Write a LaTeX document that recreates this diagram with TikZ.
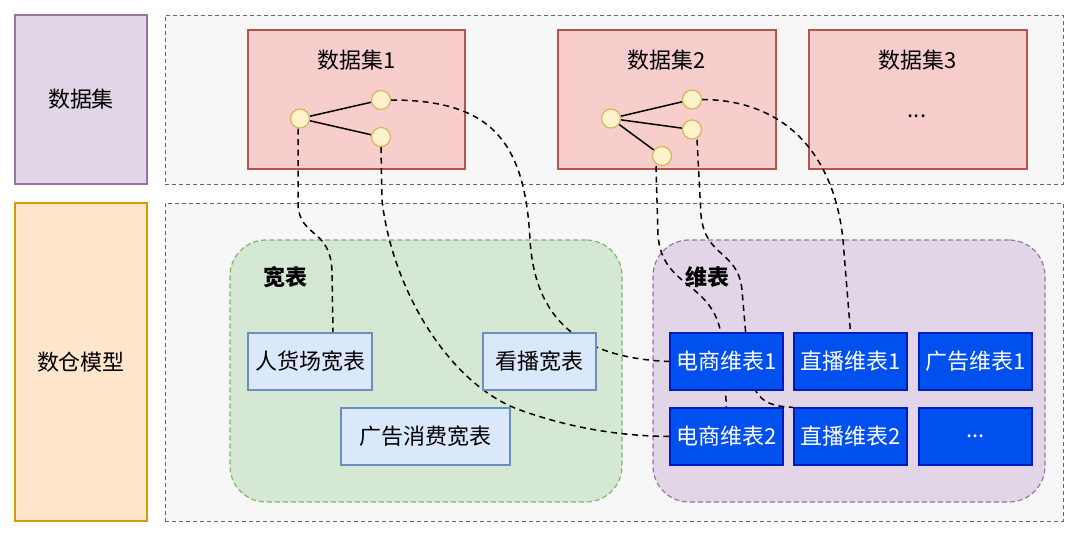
\documentclass[tikz,border=0pt]{standalone}
\usepackage{fontspec}
\setmainfont{Noto Sans CJK SC}
\usetikzlibrary{calc}
\definecolor{purF}{HTML}{E1D5E7}\definecolor{purD}{HTML}{9673A6}
\definecolor{orF}{HTML}{FFE6CC}\definecolor{orD}{HTML}{D79B00}
\definecolor{redF}{HTML}{F8CECC}\definecolor{redD}{HTML}{B85450}
\definecolor{yelF}{HTML}{FFF2CC}\definecolor{yelD}{HTML}{D6B656}
\definecolor{grnF}{HTML}{D5E8D4}\definecolor{grnD}{HTML}{82B366}
\definecolor{lbF}{HTML}{DAE8FC}\definecolor{lbD}{HTML}{6C8EBF}
\definecolor{dbF}{HTML}{0050EF}\definecolor{dbD}{HTML}{001DBC}
\definecolor{gyF}{HTML}{F7F7F7}\definecolor{gyD}{HTML}{666666}
\pgfdeclarelayer{back}\pgfdeclarelayer{mid}
\pgfsetlayers{back,mid,main}
\begin{document}
\begin{tikzpicture}[x=1pt,y=-1pt,
  every node/.style={font=\fontsize{22}{25}\selectfont, inner sep=0pt},
  lbl/.style={draw, line width=1.2pt, minimum width=132pt},
  cont/.style={draw=gyD, fill=gyF, line width=0.9pt, dash pattern=on 4pt off 3pt, minimum width=898pt},
  dsbox/.style={draw=redD, fill=redF, line width=1.2pt, minimum height=139pt},
  pt/.style={circle, draw=yelD, fill=yelF, line width=1.2pt, minimum size=19pt},
  grp/.style={draw, line width=1.2pt, dash pattern=on 5pt off 3pt, rounded corners=36pt, minimum width=392pt, minimum height=262pt},
  wbox/.style={draw=lbD, fill=lbF, line width=1.2pt, minimum height=57pt},
  dbox/.style={draw=dbD, fill=dbF, text=white, line width=1.2pt, minimum width=113pt, minimum height=57pt},
  conn/.style={draw=black, line width=1.5pt, dash pattern=on 6pt off 4.5pt},
  link/.style={draw=black, line width=1.5pt}]
\useasboundingbox (0,0) rectangle (1080,537);
\begin{pgfonlayer}{back}
\node[lbl, draw=purD, fill=purF, minimum height=169pt] (lds) at (81,99.5) {数据集};
\node[lbl, draw=orD, fill=orF, minimum height=318pt] (ldw) at (81,362) {数仓模型};
\node[cont, minimum height=169pt] (ctop) at (614,99.5) {};
\node[cont, minimum height=318pt] (cbot) at (614,362) {};
\node[dsbox, minimum width=217pt] (ds1) at (356.5,99.5) {};
\node[dsbox, minimum width=218pt] (ds2) at (667,99.5) {};
\node[dsbox, minimum width=218pt] (ds3) at (918,99.5) {};
\node (t1) at (356.5,60) {数据集1};
\node (t2) at (667,60) {数据集2};
\node (t3) at (918,60) {数据集3};
\node (t3d) at (917,116) {...};
\node[grp, draw=grnD, fill=grnF] (gw) at (426,371) {};
\node[grp, draw=purD, fill=purF] (gd) at (849,371) {};
\node[font=\fontsize{22}{25}\selectfont\bfseries] (gwl) at (285,277) {宽表};
\node[font=\fontsize{22}{25}\selectfont\bfseries] (gdl) at (707,277) {维表};
\end{pgfonlayer}
% circles
\node[pt] (d1a) at (300,118.5) {};
\node[pt] (d1b) at (381,100) {};
\node[pt] (d1c) at (381,137) {};
\node[pt] (d2a) at (611,118.5) {};
\node[pt] (d2b) at (692,99.5) {};
\node[pt] (d2c) at (692,129.5) {};
\node[pt] (d2d) at (662,156) {};
% table boxes
\node[wbox, minimum width=124pt] (w1) at (310,361.5) {人货场宽表};
\node[wbox, minimum width=113pt] (w2) at (539.5,361.5) {看播宽表};
\node[wbox, minimum width=169pt] (w3) at (425.5,436.5) {广告消费宽表};
\node[dbox] (e1) at (726.5,361.5) {电商维表1};
\node[dbox] (l1) at (850.5,361.5) {直播维表1};
\node[dbox] (g1) at (975.5,361.5) {广告维表1};
\node[dbox] (e2) at (726.5,436.5) {电商维表2};
\node[dbox] (l2) at (850.5,436.5) {直播维表2};
\node[dbox] (dd) at (975.5,436.5) {...};
\begin{pgfonlayer}{mid}
\draw[link] (d1a) -- (d1b);
\draw[link] (d1a) -- (d1c);
\draw[link] (d2a) -- (d2b);
\draw[link] (d2a) -- (d2c);
\draw[link] (d2a) -- (d2d);
\draw[conn] ($(d1a.south)+(-2,0)$) -- (298,205) .. controls (300,238) and (331,228) .. (332,272) -- ($(w1.north)+(23,0)$);
\draw[conn] (d1b.east) .. controls (490,100) and (525,140) .. (530,240) .. controls (535,320) and (580,358) .. (e1.west);
\draw[conn] (d1c.south) -- (382,200) .. controls (392,290) and (450,385) .. (520,410) .. controls (570,428) and (620,436) .. (e2.west);
\draw[conn] ($(d2d.south)+(-6,0)$) -- (658,235) .. controls (662,290) and (715,280) .. (722,340) -- (e2.north);
\draw[conn] ($(d2c.south)+(5,0)$) -- (701,215) .. controls (705,258) and (738,250) .. (742,290) -- (748,360) .. controls (752,400) and (765,406) .. (l2.north west);
\draw[conn] (d2b.east) .. controls (790,100) and (835,160) .. (843,240) -- (l1.north);
\end{pgfonlayer}
\end{tikzpicture}
\end{document}
